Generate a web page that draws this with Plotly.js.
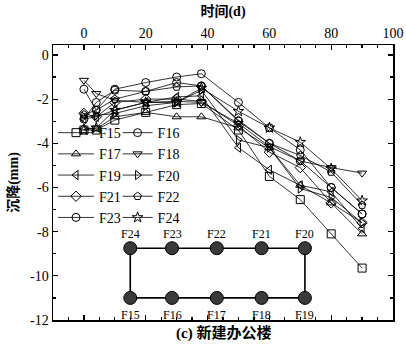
<!DOCTYPE html>
<html><head><meta charset="utf-8">
<script src="https://cdn.plot.ly/plotly-3.0.1.min.js"></script>
<style>html,body{margin:0;padding:0;background:#fff}#c{width:406px;height:354px}</style>
</head><body><div id="c"></div>
<script>
const days = [0, 4, 10, 20, 30, 38, 50, 60, 70, 80, 90];
const seriesNames = ["F15","F16","F17","F18","F19","F20","F21","F22","F23","F24"];
const F15 = [-3.4, -3.4, -2.95, -2.6, -2.25, -2.2, -3.4, -5.5, -6.55, -8.1, -9.65];
const F16 = [-1.55, -2.5, -1.55, -1.25, -1.0, -0.85, -2.15, -3.3, -4.3, -6.0, -7.2];
const F17 = [-3.3, -3.35, -2.8, -2.6, -2.8, -2.8, -3.3, -4.2, -5.9, -6.7, -8.1];
const F18 = [-1.15, -1.75, -2.05, -2.15, -2.1, -2.15, -3.1, -4.15, -4.8, -5.1, -5.35];
const F19 = [-2.9, -2.8, -2.5, -2.15, -1.9, -1.85, -4.2, -5.2, -5.9, -6.2, -7.85];
const F20 = [-2.8, -2.75, -2.65, -2.3, -2.15, -1.6, -3.85, -4.2, -6.05, -6.45, -7.6];
const F21 = [-2.65, -2.8, -2.15, -2.0, -2.0, -2.1, -3.2, -4.4, -5.1, -6.7, -7.6];
const F22 = [-2.7, -2.5, -2.0, -1.65, -1.45, -1.4, -2.95, -4.0, -4.55, -5.3, -6.8];
const F23 = [-2.9, -2.15, -1.6, -1.65, -1.25, -1.4, -3.0, -4.0, -4.8, -6.0, -7.2];
const F24 = [-3.4, -3.3, -2.5, -2.15, -2.15, -1.5, -2.55, -3.3, -3.95, -5.15, -6.6];
const seriesValues = [F15, F16, F17, F18, F19, F20, F21, F22, F23, F24];
const symbols = ["square-open","circle-open","triangle-up-open","triangle-down-open","triangle-left-open","triangle-right-open","diamond-open","pentagon-open","circle-open","star-open"];

// schematic of the building (plan diagram)
const schemX = [15, 28.5, 43, 57.5, 71.5];
const schemTopY = -8.75, schemBotY = -11.0;
const schemTopLabels = ["F24","F23","F22","F21","F20"];
const schemBotLabels = ["F15","F16","F17","F18","F19"];

const yTicks = [0, -2, -4, -6, -8, -10, -12];
const yTickText = ["0", "-2", "-4", "-6", "-8", "-10", "-12"];
const xTicks = [0, 20, 40, 60, 80, 100];

const serif = "'Liberation Serif', 'Times New Roman', serif";
const cjk = "'Liberation Serif', 'Noto Sans CJK SC', serif";

const traces = seriesNames.map((n, i) => ({
  type: "scatter", mode: "lines+markers", name: n, x: days, y: seriesValues[i],
  line: {color: "#000", width: 0.8},
  marker: {symbol: symbols[i], size: 8, color: "#000", line: {color: "#000", width: 1}},
  legend: i % 2 === 0 ? "legend" : "legend2"
}));

// rectangle outline
const rx = [schemX[0], schemX[4], schemX[4], schemX[0], schemX[0]];
const ry = [schemBotY, schemBotY, schemTopY, schemTopY, schemBotY];
traces.push({type: "scatter", mode: "lines", x: rx, y: ry, showlegend: false,
  line: {color: "#000", width: 1.6}, hoverinfo: "skip"});
traces.push({type: "scatter", mode: "markers", x: schemX, y: schemX.map(() => schemTopY),
  showlegend: false,
  marker: {symbol: "circle", size: 13, color: "#3a3a3a", line: {color: "#000", width: 1}}});
traces.push({type: "scatter", mode: "markers", x: schemX, y: schemX.map(() => schemBotY),
  showlegend: false,
  marker: {symbol: "circle", size: 13, color: "#3a3a3a", line: {color: "#000", width: 1}}});

const annotations = [];
schemX.forEach((x, i) => {
  annotations.push({text: schemTopLabels[i], x: x, y: schemTopY, xref: "x", yref: "y",
    showarrow: false, yshift: 14, font: {family: serif, size: 12, color: "#000"}});
  annotations.push({text: schemBotLabels[i], x: x, y: schemBotY, xref: "x", yref: "y",
    showarrow: false, yshift: -17, font: {family: serif, size: 12, color: "#000"}});
});
annotations.push({
  text: "<b>(c) 新建办公楼</b>", xref: "paper", yref: "paper", x: 0.5, y: 0,
  yanchor: "top", yshift: -2, showarrow: false, font: {family: cjk, size: 15, color: "#000"}
});

const layout = {
  width: 406, height: 354,
  margin: {l: 53, r: 13, t: 45, b: 34},
  paper_bgcolor: "#fff", plot_bgcolor: "#fff",
  font: {family: serif, size: 14, color: "#000"},
  showlegend: true,
  xaxis: {
    side: "top", range: [-10, 100], tickvals: xTicks, ticks: "inside", ticklen: 5,
    tickwidth: 1.2, tickcolor: "#000", showline: true, linecolor: "#000", linewidth: 1.5,
    mirror: "allticks", showgrid: false, zeroline: false,
    minor: {dtick: 5, ticks: "inside", ticklen: 3, tickcolor: "#000", showgrid: false},
    tickfont: {family: serif, size: 14},
    title: {text: "<b>时间(d)</b>", font: {family: cjk, size: 14}, standoff: 6}
  },
  yaxis: {
    range: [-12, 0.45], tickvals: yTicks, ticktext: yTickText, ticks: "inside", ticklen: 5,
    tickwidth: 1.2, tickcolor: "#000", showline: true, linecolor: "#000", linewidth: 1.5,
    mirror: "allticks", showgrid: false, zeroline: false,
    minor: {dtick: 1, ticks: "inside", ticklen: 3, tickcolor: "#000", showgrid: false},
    tickfont: {family: serif, size: 14},
    title: {text: "<b>沉降(mm)</b>", font: {family: cjk, size: 14}, standoff: 8}
  },
  legend: {x: 0, xanchor: "left", y: 0.738, yanchor: "top", bgcolor: "rgba(0,0,0,0)",
    itemwidth: 36, font: {family: serif, size: 14}, tracegroupgap: 0},
  legend2: {x: 0.19, xanchor: "left", y: 0.738, yanchor: "top", bgcolor: "rgba(0,0,0,0)",
    itemwidth: 30, font: {family: serif, size: 14}, tracegroupgap: 0},
  annotations: annotations
};

Plotly.newPlot("c", traces, layout, {displayModeBar: false, staticPlot: true});
</script></body></html>
